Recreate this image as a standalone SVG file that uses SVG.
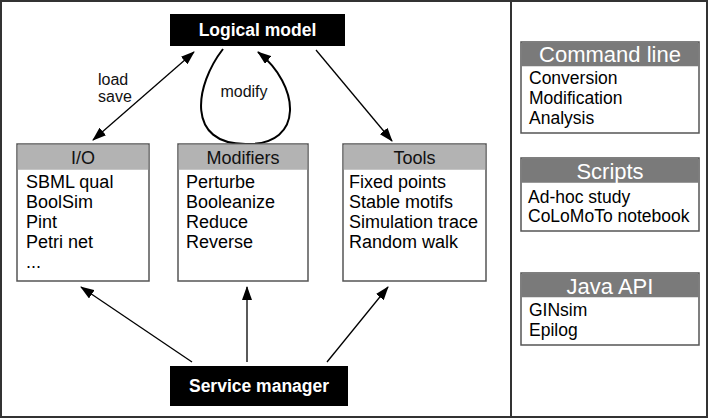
<svg xmlns="http://www.w3.org/2000/svg" width="709" height="419" viewBox="0 0 709 419">
<defs>
<style>
text{font-family:"Liberation Sans",Arial,sans-serif;}
.box{fill:#fff;stroke:#555;stroke-width:1.5;}
.hl{fill:#b3b3b3;}
.hd{fill:#7a7a7a;}
.ht{font-size:18px;fill:#111;text-anchor:middle;}
.hw{font-size:22px;fill:#fff;text-anchor:middle;}
.it{font-size:18px;fill:#000;}
.ir{font-size:17.5px;fill:#000;}
.blk{fill:#000;}
.bt{font-size:17.5px;font-weight:bold;fill:#fff;text-anchor:middle;}
.lbl{font-size:16px;fill:#111;}
.ar{fill:none;stroke:#000;stroke-width:1.3;}
.loop{fill:none;stroke:#000;stroke-width:2;}
</style>
<marker id="ah" viewBox="0 0 14 10" refX="13" refY="5" markerWidth="14" markerHeight="10" markerUnits="userSpaceOnUse" orient="auto-start-reverse">
<path d="M0,0 L14,5 L0,10 z" fill="#000"/>
</marker>
</defs>
<rect x="1" y="1" width="706" height="416" fill="#fff" stroke="#333" stroke-width="2"/>
<line x1="511" y1="1" x2="511" y2="417" stroke="#333" stroke-width="2"/>

<g id="connectors">
<line class="ar" x1="194" y1="52" x2="93" y2="140" marker-start="url(#ah)" marker-end="url(#ah)"/>
<line class="ar" x1="316" y1="50" x2="392" y2="141" marker-end="url(#ah)"/>
<path class="loop" d="M223,49 C195,85 185,145 247,144 C305,145 300,85 258,52" marker-end="url(#ah)"/>
<line class="ar" x1="192" y1="362" x2="81" y2="287" marker-end="url(#ah)"/>
<line class="ar" x1="247" y1="362" x2="247" y2="287" marker-end="url(#ah)"/>
<line class="ar" x1="327" y1="362" x2="388" y2="287" marker-end="url(#ah)"/>
<text class="lbl" x="98" y="85">load</text>
<text class="lbl" x="98" y="102">save</text>
<text class="lbl" x="244" y="97" text-anchor="middle">modify</text>
</g>

<g id="logical-model">
<rect class="blk" x="170" y="14" width="175" height="32"/>
<text class="bt" x="257.5" y="36">Logical model</text>
</g>

<g id="service-manager">
<rect class="blk" x="170" y="366" width="178" height="40"/>
<text class="bt" x="259" y="392">Service manager</text>
</g>

<g id="io">
<rect class="box" x="17" y="144" width="132" height="137"/>
<rect class="hl" x="17.75" y="144.75" width="130.5" height="25"/>
<text class="ht" x="83" y="164">I/O</text>
<text class="it" x="26" y="188">SBML qual</text>
<text class="it" x="26" y="208">BoolSim</text>
<text class="it" x="26" y="228">Pint</text>
<text class="it" x="26" y="248">Petri net</text>
<text class="it" x="26" y="268">...</text>
</g>

<g id="modifiers">
<rect class="box" x="178" y="144" width="130" height="137"/>
<rect class="hl" x="178.75" y="144.75" width="128.5" height="25"/>
<text class="ht" x="243" y="164">Modifiers</text>
<text class="it" x="186" y="188">Perturbe</text>
<text class="it" x="186" y="208">Booleanize</text>
<text class="it" x="186" y="228">Reduce</text>
<text class="it" x="186" y="248">Reverse</text>
</g>

<g id="tools">
<rect class="box" x="343" y="144" width="143" height="137"/>
<rect class="hl" x="343.75" y="144.75" width="141.5" height="25"/>
<text class="ht" x="414.5" y="164">Tools</text>
<text class="it" x="349" y="188">Fixed points</text>
<text class="it" x="349" y="208">Stable motifs</text>
<text class="it" x="349" y="228">Simulation trace</text>
<text class="it" x="349" y="248">Random walk</text>
</g>

<g id="command-line">
<rect class="box" x="521" y="42" width="178" height="91"/>
<rect class="hd" x="521.75" y="42.75" width="176.5" height="23.5"/>
<text class="hw" x="610" y="62">Command line</text>
<text class="ir" x="529" y="84">Conversion</text>
<text class="ir" x="529" y="104">Modification</text>
<text class="ir" x="529" y="124">Analysis</text>
</g>

<g id="scripts">
<rect class="box" x="521" y="158" width="178" height="73"/>
<rect class="hd" x="521.75" y="158.75" width="176.5" height="24"/>
<text class="hw" x="610" y="179">Scripts</text>
<text class="ir" x="528" y="203">Ad-hoc study</text>
<text class="ir" x="528" y="222">CoLoMoTo notebook</text>
</g>

<g id="java-api">
<rect class="box" x="521" y="273" width="178" height="72"/>
<rect class="hd" x="521.75" y="273.75" width="176.5" height="23.5"/>
<text class="hw" x="610" y="294">Java API</text>
<text class="ir" x="529" y="316">GINsim</text>
<text class="ir" x="529" y="336">Epilog</text>
</g>
</svg>
